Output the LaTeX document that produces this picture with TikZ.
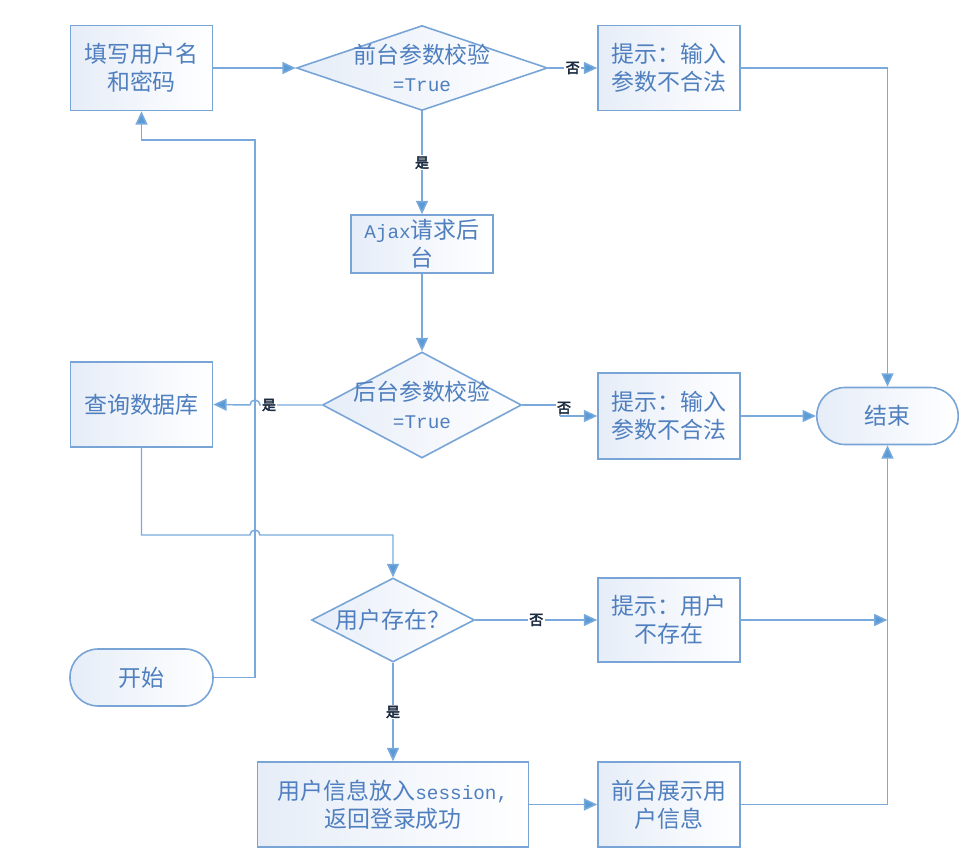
\documentclass[tikz,border=0pt]{standalone}
\usepackage{fontspec}
\setmainfont{Noto Sans CJK SC}
\newfontfamily\mono{Liberation Mono}
\newfontfamily\lblfont[FakeBold=3]{Noto Sans CJK SC}
\usetikzlibrary{shapes.geometric,arrows.meta,calc}
\definecolor{bordc}{HTML}{78A5D6}
\definecolor{linec}{HTML}{7AAADC}
\definecolor{tipc}{HTML}{5B9BD5}
\definecolor{txtc}{HTML}{4F7FBF}
\definecolor{fillc}{HTML}{E6EDF8}
\definecolor{lblc}{HTML}{1A2A40}
\tikzset{
  base/.style={draw=bordc, line width=1.2pt, left color=fillc, right color=white, inner sep=0pt},
  proc/.style={base, rectangle, minimum width=106.5pt, minimum height=63.75pt},
  term/.style={base, rectangle, rounded corners=21pt, minimum width=106pt, minimum height=42.75pt},
  decis/.style={base, diamond},
  txt/.style={font=\fontsize{17.2}{21}\selectfont, text=txtc, align=center, inner sep=0pt},
  conn/.style={draw=linec, line width=1.1pt, -{Triangle[length=10pt,width=9pt,fill=tipc]}},
  plain/.style={draw=linec, line width=1.1pt},
  lbl/.style={font=\lblfont\fontsize{10.5}{11}\selectfont, text=lblc, fill=white, inner sep=1pt}
}
\begin{document}
\begin{tikzpicture}[x=0.75pt,y=-0.75pt]
\useasboundingbox (0,0) rectangle (972,866);

% nodes
\node[proc] (fill) at (141.5,68) {};
\node[txt] (fillt) at (fill) {填写用户名\\和密码};

\node[decis, minimum width=188.25pt, minimum height=63.75pt] (fq) at (422,68) {};
\node[txt] (fqt) at (fq) {前台参数校验\\{\mono\fontsize{14.5}{21}\selectfont =True}};

\node[proc] (tip1) at (669,68) {};
\node[txt] (tip1t) at (tip1) {提示：输入\\参数不合法};

\node[proc, minimum height=43.5pt] (ajax) at (422,244) {};
\node[txt] (ajaxt) at (ajax) {{\mono\fontsize{14.5}{21}\selectfont Ajax}请求后\\台};

\node[decis, minimum width=149.25pt, minimum height=79.5pt] (bq) at (422,405) {};
\node[txt] (bqt) at (bq) {后台参数校验\\{\mono\fontsize{14.5}{21}\selectfont =True}};

\node[proc] (query) at (141.5,404.5) {};
\node[txt] (queryt) at (query) {查询数据库};

\node[proc, minimum height=64.5pt] (tip2) at (669,416) {};
\node[txt] (tip2t) at (tip2) {提示：输入\\参数不合法};

\node[term] (end) at (887.5,416) {};
\node[txt] (endt) at (end) {结束};

\node[decis, minimum width=122.25pt, minimum height=63pt] (uq) at (393,620) {};
\node[txt] (uqt) at (uq) {用户存在？};

\node[proc, minimum height=63pt] (tip3) at (669,620) {};
\node[txt] (tip3t) at (tip3) {提示：用户\\不存在};

\node[term, minimum width=107.25pt] (start) at (141.5,677.5) {};
\node[txt] (startt) at (start) {开始};

\node[proc, minimum width=203.25pt] (sess) at (393,804.5) {};
\node[txt] (sesst) at (sess) {用户信息放入{\mono\fontsize{14.5}{21}\selectfont session,}\\返回登录成功};

\node[proc] (disp) at (669,804.5) {};
\node[txt] (dispt) at (disp) {前台展示用\\户信息};

% helper coordinates
\coordinate (jA) at (255,405);
\coordinate (jB) at (255,535);
\coordinate (s1) at (560,405);
\coordinate (s2) at (560,416);
\coordinate (q1) at (141.5,535);
\coordinate (q2) at (393,535);
\coordinate (p1) at (255,677.5);
\coordinate (p2) at (255,140);
\coordinate (p3) at (141.5,140);
\coordinate (m1) at (887.5,620);

% connectors
\draw[conn] (fill.east) -- (fq.west);
\draw[conn] (fq.east) -- node[lbl]{否} (tip1.west);
\draw[conn] (tip1.east) -| (end.north);
\draw[conn] (fq.south) -- node[lbl]{是} (ajax.north);
\draw[conn] (ajax.south) -- (bq.north);

\draw[conn] (start.east) -- (p1) -- (p2) -- (p3) -- (fill.south);

\draw[conn] (bq.west) -- ($(jA)+(5,0)$) arc[start angle=0, end angle=180, radius=3.75pt] -- (query.east);
\node[lbl] (lyes1) at (269,405) {是};

\draw[plain] (bq.east) -- (s1) -- (s2);
\draw[conn] (s2) -- (tip2.west);
\node[lbl] (lno2) at (564,408) {否};
\draw[conn] (tip2.east) -- (end.west);

\draw[conn] (query.south) -- (q1) -- ($(jB)-(5,0)$) arc[start angle=180, end angle=0, radius=3.75pt] -- (q2) -- (uq.north);

\draw[conn] (uq.east) -- node[lbl]{否} (tip3.west);
\draw[conn] (tip3.east) -- (m1);
\draw[conn] (uq.south) -- node[lbl]{是} (sess.north);
\draw[conn] (sess.east) -- (disp.west);
\draw[conn] (disp.east) -| (end.south);
\end{tikzpicture}
\end{document}
